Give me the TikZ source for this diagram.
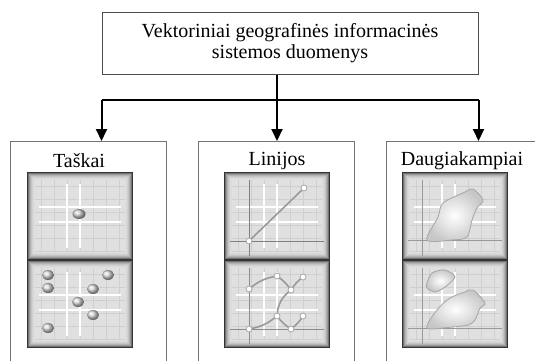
\documentclass[tikz,border=0pt]{standalone}
\usepackage{fontspec}
\setmainfont{Liberation Serif}
\usetikzlibrary{arrows.meta}

\tikzstyle{blokas}=[
    draw=black!70,
    line width=1pt,
    minimum width=376pt,
    minimum height=61.5pt,
    align=center,
    inner sep=0pt,
  ]
\tikzstyle{grupe}=[
    draw=black!55,
    line width=1pt,
    minimum width=156pt,
    minimum height=232pt,
    anchor=north west,
  ]
\tikzstyle{rod}=[
    -{Triangle[length=12pt,width=11pt]},
    line width=2pt,
  ]
\tikzstyle{kreive}=[
    draw=black!40,
    line width=1.6pt,
  ]
\tikzstyle{virsune}=[
    fill=white,
    draw=black!35,
    line width=0.8pt,
  ]
\tikzstyle{plotas}=[
    inner color=white,
    outer color=black!22,
    draw=black!35,
    line width=0.8pt,
  ]

% one 106x88 icon tile: dark rim, light face and a faint grid
\newcommand{\ikona}[2]{%
  \begin{scope}[shift={(#1,#2)}]
    \fill[black!80] (0,0) rectangle (106,88);
    \foreach \k/\c in {1/55,2/40,3/30,4/23,5/18,6/15,7/13,8/12} {%
      \fill[black!\c] (\k,\k) rectangle (106-\k,88-\k);
    }
    \foreach \g in {14,27,...,92} {%
      \draw[black!19, line width=0.8pt] (\g,8) -- (\g,80);
    }
    \foreach \g in {14,27,...,80} {%
      \draw[black!19, line width=0.8pt] (8,\g) -- (98,\g);
    }
    \draw[white, line width=2pt] (40,12) -- (40,76) (53,12) -- (53,76);
    \draw[white, line width=2pt] (12,35) -- (94,35) (12,50) -- (94,50);
  \end{scope}
}

\begin{document}
\begin{tikzpicture}[x=1pt, y=-1pt, font=\fontsize{20}{21.5}\selectfont]
      \useasboundingbox (0,0) rectangle (535,361);

      \node[blokas] (vgis) at (290,43.25)
        {Vektoriniai geografinės informacinės\\sistemos duomenys};

      \node[grupe] (taskai) at (10,141) {};
      \node[grupe] (linijos) at (198,141) {};
      \node[grupe] (daugiak) at (386,141) {};

      \node (taskaiT) at (79,161) {Taškai};
      \node (linijosT) at (277,161) {Linijos};
      \node (daugiakT) at (462,161) {Daugiakampiai};

      % connectors
      \coordinate (bus) at (0,100);
      \coordinate (vid) at (277,0);
      \draw[line width=2pt] (vgis.south west |- bus) -- (vgis.south east |- bus);
      \draw[rod] (vgis.south west |- bus) -- (vgis.south west |- taskai.north);
      \draw[rod] (vid |- vgis.south) -- (vid |- linijos.north);
      \draw[rod] (vgis.south east |- bus) -- (vgis.south east |- daugiak.north);

      % points
      \ikona{27}{172}
      \ikona{27}{260}
      \shade[ball color=black!18] (27+52,172+42) ellipse (6.5 and 5);
      \foreach \px/\py in {21/15, 81/15, 21/28, 66/29, 51/42, 66/55, 21/68} {%
        \shade[ball color=black!15] (27+\px,260+\py) ellipse (6 and 5);
      }

      % lines
      \ikona{224}{172}
      \ikona{224}{260}
      \begin{scope}[shift={(224,172)}]
        \draw[black!50, line width=0.8pt] (6,69) -- (100,69) (25,8) -- (25,84);
        \draw[kreive] (25,69) -- (80,16);
        \filldraw[virsune] (25,69) circle (3) (80,16) circle (3);
      \end{scope}
      \begin{scope}[shift={(224,260)}]
        \draw[black!45, line width=0.8pt] (6,69) -- (100,69) (25,8) -- (25,84);
        \draw[kreive] (25,29) to[bend left=15] (53,16) to[bend left=10] (67,30)
          to[bend left=10] (79,17);
        \draw[kreive] (67,30) to[bend right=25] (53,56);
        \draw[kreive] (25,69) to[bend right=15] (53,56) to[bend right=10] (67,69)
          to[bend right=10] (79,56);
        \foreach \vx/\vy in {25/29, 53/16, 79/17, 67/30, 53/56, 79/56, 67/69, 25/69} {%
          \filldraw[virsune] (\vx,\vy) circle (3);
        }
      \end{scope}

      % polygons
      \ikona{402}{172}
      \ikona{402}{260}
      \begin{scope}[shift={(402,172)}]
        \draw[black!40, line width=0.8pt] (6,68) -- (100,68) (20,8) -- (20,84);
        \shade[plotas]
          plot[smooth cycle, tension=0.5] coordinates {(25,68) (36,45) (41,31)
            (63,20) (71,17) (81,28) (75,36) (70,48) (65,65) (50,68)};
      \end{scope}
      \begin{scope}[shift={(402,260)}]
        \draw[black!40, line width=0.8pt] (6,68) -- (100,68) (20,8) -- (20,84);
        \shade[plotas]
          plot[smooth cycle, tension=0.5] coordinates {(25,23) (30,13) (43,10)
            (53,17) (43,27) (33,32) (25,28)};
        \shade[plotas]
          plot[smooth cycle, tension=0.5] coordinates {(25,68) (35,50) (48,38)
            (63,32) (71,30) (83,43) (78,48) (73,60) (66,65) (50,67)};
      \end{scope}
    \end{tikzpicture}
\end{document}
